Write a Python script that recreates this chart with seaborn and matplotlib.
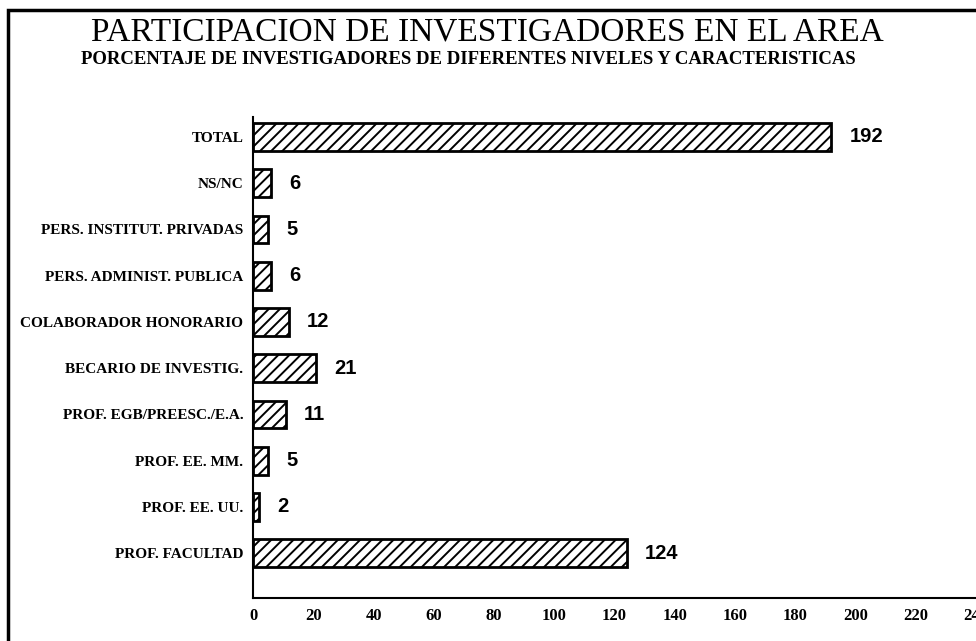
import matplotlib
matplotlib.use("Agg")
import matplotlib.pyplot as plt
import seaborn as sns
import pandas as pd
from matplotlib.patches import Rectangle

# datos del grafico
categorias = ["TOTAL", "NS/NC", "PERS. INSTITUT. PRIVADAS", "PERS. ADMINIST. PUBLICA",
              "COLABORADOR HONORARIO", "BECARIO DE INVESTIG.", "PROF. EGB/PREESC./E.A.",
              "PROF. EE. MM.", "PROF. EE. UU.", "PROF. FACULTAD"]
valores = [192, 6, 5, 6, 12, 21, 11, 5, 2, 124]
xticks = list(range(0, 241, 20))

data = pd.DataFrame({"cat": categorias, "val": valores})

sns.set_style("white")
plt.rcParams["font.family"] = ["Liberation Serif", "DejaVu Serif"]
plt.rcParams["hatch.linewidth"] = 1.4
plt.rcParams["text.color"] = "black"
plt.rcParams["xtick.color"] = "black"
plt.rcParams["ytick.color"] = "black"

fig = plt.figure(figsize=(9.76, 6.41), dpi=100)
ax = fig.add_axes([253 / 976, 1 - 598 / 641, (976 - 253) / 976, (598 - 117) / 641])

sns.barplot(x="val", y="cat", data=data, orient="h", color="white",
            edgecolor="black", linewidth=2, width=0.6, ax=ax)
for p in ax.patches:
    p.set_hatch("///")
    p.set_facecolor("white")

for i, v in enumerate(valores):
    ax.annotate(str(v), (v, i), xytext=(13, 0), textcoords="offset points",
                va="center", ha="left", fontsize=14.5, fontweight="bold",
                color="black", family=["Liberation Sans", "DejaVu Sans"])

ax.set_xlim(0, 240)
ax.set_ylim(len(categorias) - 1 + 0.97, -0.43)
ax.set_xticks(xticks)
ax.set_xlabel("")
ax.set_ylabel("")
ax.tick_params(axis="both", direction="out", length=4, width=1.2, color="black", pad=3)
ax.tick_params(axis="x", labelsize=12)
ax.tick_params(axis="y", labelsize=11)
for lab in ax.get_yticklabels() + ax.get_xticklabels():
    lab.set_fontweight("bold")

sns.despine(ax=ax)
for s in ["left", "bottom"]:
    ax.spines[s].set_linewidth(1.5)
    ax.spines[s].set_color("black")

fig.text(487 / 976, 1 - 32 / 641, "PARTICIPACION DE INVESTIGADORES EN EL AREA",
         ha="center", va="center", fontsize=24)
fig.text(468 / 976, 1 - 60 / 641,
         "PORCENTAJE DE INVESTIGADORES DE DIFERENTES NIVELES Y CARACTERISTICAS",
         ha="center", va="center", fontsize=13.5, fontweight="bold")

# marco del grafico
fig.patches.append(Rectangle((8 / 976, -0.05), 1.1, 1 - 10 / 641 + 0.05,
                             transform=fig.transFigure, fill=False,
                             edgecolor="black", linewidth=2.5))

fig.savefig("out.png", dpi=100)
